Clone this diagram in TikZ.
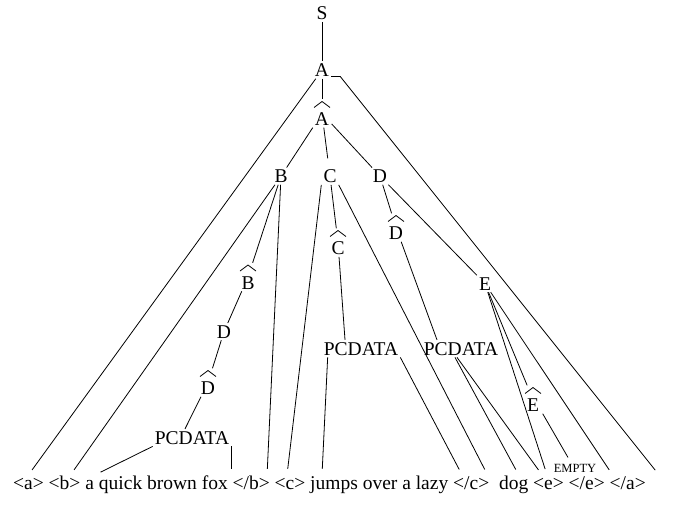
\documentclass[tikz,border=0pt]{standalone}
\usepackage{fontspec}
\setmainfont{Liberation Serif}
\colorlet{background}{white}
\colorlet{penColor}{black}
\tikzset{
  sym/.style={anchor=base, inner sep=2pt, penColor, font=\fontsize{19.5}{23}\selectfont},
  hatsym/.style={sym, text height=24pt, minimum width=19pt,
    path picture={\draw[penColor, line width=.8pt]
      ([shift={(-8pt,-8pt)}]path picture bounding box.north)
      -- ([shift={(0pt,-2pt)}]path picture bounding box.north)
      -- ([shift={(8pt,-8pt)}]path picture bounding box.north);}},
  emptysym/.style={anchor=base, inner sep=1pt, penColor, font=\fontsize{12.5}{15}\selectfont},
  word/.style={anchor=base west, inner sep=0pt, text height=14pt, text depth=4pt, penColor, font=\fontsize{19.5}{23}\selectfont},
  branch/.style={penColor, line width=.8pt},
  leaf/.style={branch, shorten >=6pt}
}

\begin{document}
\begin{tikzpicture}[x=1pt,y=-1pt]
				\useasboundingbox (0,0) rectangle (674,517);
				% tree
				\node[sym] (S) at (322,19.5) {S};
				\node[sym] (A) at (322,76.5) {A};
				\node[hatsym] (Ah) at (322,125.5) {A};
				\node[sym] (B) at (281,182.5) {B};
				\node[sym] (C) at (330,182.5) {C};
				\node[sym] (D) at (380,182.5) {D};
				\node[hatsym] (Dh) at (396,239.5) {D};
				\node[hatsym] (Ch) at (338,254.5) {C};
				\node[hatsym] (Bh) at (248,289) {B};
				\node[sym] (E) at (485,290) {E};
				\node[sym] (D2) at (224,338) {D};
				\node[sym] (pc2) at (361,355) {PCDATA};
				\node[sym] (pc3) at (461,355) {PCDATA};
				\node[hatsym] (D2h) at (208,394.5) {D};
				\node[hatsym] (Eh) at (533,411.5) {E};
				\node[sym] (pc1) at (192,444) {PCDATA};
				\node[emptysym] (empty) at (575,472) {EMPTY};
				% document
				\node[word] (ta) at (13,489) {<a>};
				\node[word] (tb) at (48.5,489) {<b>};
				\node[word] (t1) at (85.2,489) {a quick brown fox};
				\node[word] (tbe) at (232.5,489) {</b>};
				\node[word] (tc) at (274.5,489) {<c>};
				\node[word] (t2) at (310,489) {jumps over a lazy};
				\node[word] (tce) at (453,489) {</c>};
				\node[word] (dog) at (498.8,489) {dog};
				\node[word] (te) at (533,489) {<e>};
				\node[word] (tee) at (568.5,489) {</e>};
				\node[word] (tae) at (609.5,489) {</a>};

				\draw[branch] (S) -- (A);
				\draw[leaf] (A) -- (ta.north);
				\draw[leaf] (A.base east) -- ++(9pt,0) -- ([xshift=13pt]tae.north east);
				\draw[branch] (A) -- (Ah);
				\draw[branch] (Ah) -- (B);
				\draw[branch, shorten >=9pt] (Ah) -- (C);
				\draw[branch] (Ah) -- (D);
				\draw[leaf] (B) -- ([xshift=6pt]tb.north);
				\draw[branch] (B) -- (Bh);
				\draw[leaf] (B) -- ([xshift=-3pt]tbe.north east);
				\draw[branch] (Bh) -- (D2);
				\draw[branch] (D2) -- (D2h);
				\draw[branch] (D2h) -- ([xshift=-7pt]pc1.north);
				\draw[leaf] (pc1.south west) -- ([xshift=10pt]t1.north west);
				\draw[leaf] (pc1.south east) -- (pc1.south east |- t1.north);
				\draw[leaf] (C.south west) -- ([xshift=-3pt]tc.north);
				\draw[branch] (C) -- (Ch);
				\draw[leaf] (C.south east) -- ([xshift=-2pt]tce.north east);
				\draw[branch] (Ch) -- ([xshift=-16pt]pc2.north);
				\draw[leaf] ([xshift=6pt]pc2.south west) -- ([xshift=12pt]t2.north west);
				\draw[leaf] (pc2.south east) -- ([xshift=9pt]tce.north west);
				\draw[branch] (D) -- (Dh);
				\draw[branch] (D) -- (E);
				\draw[branch] (Dh) -- ([xshift=-24pt]pc3.north);
				\draw[leaf] ([xshift=-6pt]pc3.south) -- ([xshift=5pt]dog.north);
				\draw[leaf] ([xshift=-4pt]pc3.south) -- ([xshift=9pt]te.north west);
				\draw[branch] (E) -- (Eh);
				\draw[leaf] (E) -- ([xshift=14pt]te.north west);
				\draw[leaf] (E) -- ([xshift=3pt]tae.north west);
				\draw[branch, shorten >=6pt] (Eh.south east) -- ([xshift=-4pt]empty.north);
\end{tikzpicture}
\end{document}
